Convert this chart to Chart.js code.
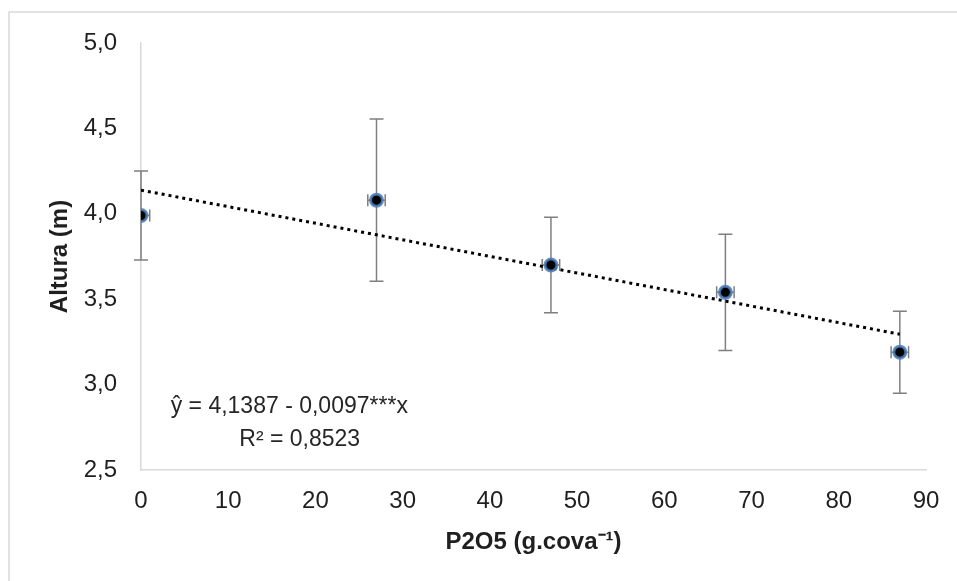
<!DOCTYPE html>
<html>
<head>
<meta charset="utf-8">
<script src="https://cdn.jsdelivr.net/npm/chart.js@4"></script>
<style>
  body { margin: 0; background: #fff; }
  #wrap { position: relative; width: 957px; height: 581px; }
</style>
</head>
<body>
<div id="wrap"><canvas id="chart" width="957" height="581"></canvas></div>
<script>
// doses of P2O5 and measured height
const doses = [0, 27, 47, 67, 87];
const heights = [3.99, 4.08, 3.70, 3.54, 3.19];
const heightErr = [0.26, 0.475, 0.28, 0.34, 0.24];
const doseErr = [1, 1, 1, 1, 1];
const yTicks = [2.5, 3.0, 3.5, 4.0, 4.5, 5.0];
const xTicks = [0, 10, 20, 30, 40, 50, 60, 70, 80, 90];
// fitted line, from the equation shown on the chart
const intercept = 4.1387;
const slope = -0.0097;
const eqText = 'ŷ = 4,1387 - 0,0097***x';
const r2Text = 'R² = 0,8523';

const FONT = '"Liberation Sans", Arial, sans-serif';

const trendPts = [doses[0], doses[doses.length - 1]].map(x => ({x: x, y: intercept + slope * x}));

const errorBars = {
  id: 'errorBars',
  beforeDatasetsDraw(chart) {
    const ctx = chart.ctx, xs = chart.scales.x, ys = chart.scales.y;
    const area = chart.chartArea;
    ctx.save();
    ctx.strokeStyle = '#7f7f7f';
    ctx.lineWidth = 1.5;
    for (let i = 0; i < doses.length; i++) {
      const px = xs.getPixelForValue(doses[i]);
      const py = ys.getPixelForValue(heights[i]);
      const top = ys.getPixelForValue(heights[i] + heightErr[i]);
      const bot = ys.getPixelForValue(heights[i] - heightErr[i]);
      const l = xs.getPixelForValue(doses[i] - doseErr[i]);
      const r = xs.getPixelForValue(doses[i] + doseErr[i]);
      ctx.beginPath();
      ctx.moveTo(px, top); ctx.lineTo(px, bot);
      ctx.moveTo(px - 7, top); ctx.lineTo(px + 7, top);
      ctx.moveTo(px - 7, bot); ctx.lineTo(px + 7, bot);
      ctx.moveTo(Math.max(l, area.left), py); ctx.lineTo(r, py);
      if (l >= area.left) { ctx.moveTo(l, py - 6); ctx.lineTo(l, py + 6); }
      ctx.moveTo(r, py - 6); ctx.lineTo(r, py + 6);
      ctx.stroke();
    }
    ctx.restore();
  }
};

const decorations = {
  id: 'decorations',
  afterDraw(chart) {
    const ctx = chart.ctx, xs = chart.scales.x, ys = chart.scales.y;
    ctx.save();
    // outer frame
    ctx.strokeStyle = '#d9d9d9';
    ctx.lineWidth = 1.5;
    ctx.beginPath();
    ctx.moveTo(9, 581); ctx.lineTo(9, 12); ctx.lineTo(957, 12);
    ctx.stroke();
    // equation
    ctx.fillStyle = '#262626';
    ctx.font = '23px ' + FONT;
    ctx.textAlign = 'center';
    ctx.textBaseline = 'middle';
    ctx.fillText(eqText, xs.getPixelForValue(17), ys.getPixelForValue(2.87));
    ctx.fillText(r2Text, xs.getPixelForValue(18.2), ys.getPixelForValue(2.675));
    ctx.restore();
  }
};

new Chart(document.getElementById('chart'), {
  type: 'scatter',
  data: {
    datasets: [{
      label: 'Altura',
      data: doses.map((x, i) => ({x: x, y: heights[i]})),
      pointRadius: 6,
      pointHoverRadius: 6,
      backgroundColor: '#000',
      borderColor: 'rgba(74,126,187,0.85)',
      borderWidth: 3,
      order: 1
    }, {
      type: 'line',
      label: 'Linear',
      data: trendPts,
      borderColor: '#000',
      borderWidth: 3,
      borderDash: [3, 4],
      pointRadius: 0,
      fill: false,
      order: 2
    }]
  },
  options: {
    responsive: false,
    animation: false,
    layout: { padding: { left: 0, right: 31, top: 43, bottom: 0 } },
    plugins: { legend: { display: false }, tooltip: { enabled: false } },
    scales: {
      x: {
        type: 'linear',
        min: 0, max: 90,
        afterBuildTicks: s => { s.ticks = xTicks.map(v => ({value: v})); },
        afterFit: s => { s.height = 111; },
        grid: { display: false, drawTicks: false },
        border: { display: true, color: '#d9d9d9', width: 1.5 },
        ticks: { padding: 17, color: '#1f1f1f', font: { family: FONT, size: 24 } },
        title: {
          display: true, text: 'P2O5 (g.cova⁻¹)', color: '#1f1f1f',
          font: { family: FONT, size: 24, weight: 'bold' },
          padding: { top: 24, bottom: 24 }
        }
      },
      y: {
        min: 2.5, max: 5,
        afterBuildTicks: s => { s.ticks = yTicks.map(v => ({value: v})); },
        afterFit: s => { s.width = 141; },
        grid: { display: false, drawTicks: false },
        border: { display: true, color: '#d9d9d9', width: 1.5 },
        ticks: {
          padding: 24, color: '#1f1f1f', font: { family: FONT, size: 24 },
          callback: v => v.toFixed(1).replace('.', ',')
        },
        title: {
          display: true, text: 'Altura (m)', color: '#1f1f1f',
          font: { family: FONT, size: 24, weight: 'bold' },
          padding: { top: 46, bottom: 46 }
        }
      }
    }
  },
  plugins: [errorBars, decorations]
});
</script>
</body>
</html>
